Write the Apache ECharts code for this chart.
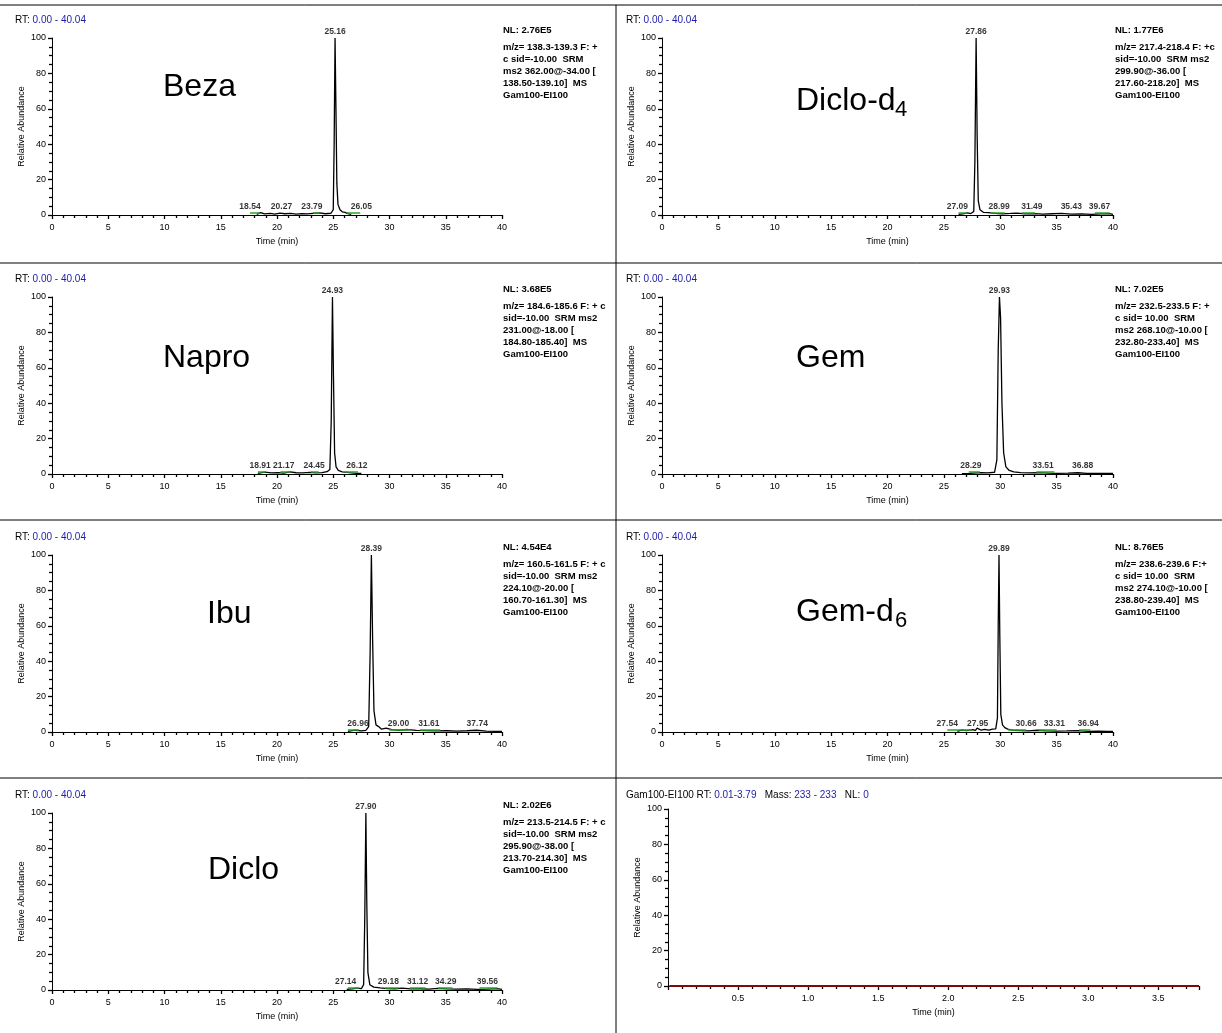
<!DOCTYPE html>
<html>
<head>
<meta charset="utf-8">
<script src="https://cdn.jsdelivr.net/npm/echarts@6/dist/echarts.min.js"></script>
<style>
  html, body { margin: 0; padding: 0; background: #fff; }
  #chart { width: 1222px; height: 1033px; }
</style>
</head>
<body>
<div id="chart"></div>
<script>
// ---- data ----
const bezaTime  = [18.2, 18.54, 18.9, 19.4, 19.8, 20.27, 20.7, 21.2, 21.7, 22.2, 22.7, 23.2, 23.79, 24.3, 24.8, 25.0, 25.08, 25.16, 25.24, 25.32, 25.42, 25.6, 25.8, 26.05, 26.3, 26.6];
const bezaAbund = [0.4, 1.3, 0.6, 0.9, 0.5, 1.1, 0.7, 0.9, 0.5, 0.8, 0.6, 0.9, 1.2, 0.7, 1.0, 3, 40, 100, 60, 18, 6, 3, 1.8, 1.5, 0.8, 0.4];
const bezaMinor   = [18.54, 20.27, 23.79, 26.05];
const bezaMinorAt = [17.6, 20.4, 23.1, 27.5];
const bezaGreen   = [[17.6, 18.5], [23.2, 23.8], [26.2, 27.4]];

const dcd4Time  = [26.3, 26.7, 27.09, 27.4, 27.65, 27.75, 27.86, 27.95, 28.05, 28.2, 28.5, 28.99, 29.5, 30.2, 30.9, 31.49, 32.2, 33.0, 33.8, 34.6, 35.43, 36.3, 37.2, 38.1, 38.9, 39.67, 40.0];
const dcd4Abund = [0.3, 0.6, 1.2, 0.8, 2, 30, 100, 45, 8, 3, 1.5, 1.3, 0.9, 0.7, 0.9, 1.1, 0.6, 0.8, 0.5, 0.7, 0.9, 0.5, 0.6, 0.4, 0.6, 0.8, 0.4];
const dcd4Minor   = [27.09, 28.99, 31.49, 35.43, 39.67];
const dcd4MinorAt = [26.2, 29.9, 32.8, 36.3, 38.8];
const dcd4Green   = [[26.3, 27.1], [29.1, 30.4], [31.9, 33.1], [38.4, 39.7]];

const napTime  = [18.3, 18.91, 19.5, 20.1, 20.6, 21.17, 21.7, 22.3, 22.9, 23.5, 24.0, 24.45, 24.7, 24.82, 24.93, 25.02, 25.12, 25.25, 25.45, 25.8, 26.12, 26.6, 27.1, 27.5];
const napAbund = [0.3, 1.1, 0.6, 0.8, 0.5, 1.2, 0.7, 0.6, 0.9, 0.6, 0.8, 1.3, 2.5, 30, 100, 55, 12, 4, 2, 1.2, 1.1, 0.6, 0.4, 0.3];
const napMinor   = [18.91, 21.17, 24.45, 26.12];
const napMinorAt = [18.5, 20.6, 23.3, 27.1];
const napGreen   = [[18.3, 19.0], [20.3, 21.2], [23.0, 23.7], [26.1, 27.2]];

const gemTime  = [26.6, 27.3, 28.29, 28.9, 29.5, 29.7, 29.82, 29.93, 30.03, 30.15, 30.3, 30.5, 30.8, 31.2, 31.8, 32.6, 33.51, 34.3, 35.1, 36.0, 36.88, 37.7, 38.5, 39.3, 40.0];
const gemAbund = [0.2, 0.4, 0.8, 0.6, 1.0, 8, 70, 100, 88, 40, 12, 4, 2, 1.2, 0.8, 0.6, 0.8, 0.5, 0.4, 0.5, 0.7, 0.4, 0.3, 0.4, 0.3];
const gemMinor   = [28.29, 33.51, 36.88];
const gemMinorAt = [27.4, 33.8, 37.3];
const gemGreen   = [[27.2, 28.2], [33.2, 34.8]];

const ibuTime  = [26.3, 26.96, 27.5, 27.9, 28.15, 28.28, 28.39, 28.5, 28.62, 28.8, 29.0, 29.3, 29.7, 30.2, 30.8, 31.61, 32.4, 33.3, 34.2, 35.1, 36.0, 36.9, 37.74, 38.6, 39.4, 40.0];
const ibuAbund = [0.3, 1.0, 0.6, 0.9, 3, 45, 100, 52, 12, 4, 3.2, 1.6, 2.2, 1.3, 1.0, 1.4, 0.9, 0.8, 0.6, 0.7, 0.5, 0.7, 1.0, 0.5, 0.4, 0.3];
const ibuMinor   = [26.96, 29.00, 31.61, 37.74];
const ibuMinorAt = [27.2, 30.8, 33.5, 37.8];
const ibuGreen   = [[26.3, 27.3], [30.0, 31.8], [32.7, 34.5]];

const gd6Time  = [26.2, 26.6, 27.0, 27.54, 27.8, 27.95, 28.3, 28.6, 29.0, 29.3, 29.6, 29.75, 29.82, 29.89, 29.96, 30.05, 30.2, 30.4, 30.66, 31.1, 31.8, 32.5, 33.31, 34.1, 35.0, 35.9, 36.94, 37.8, 38.7, 39.5, 40.0];
const gd6Abund = [0.4, 1.2, 0.8, 1.4, 0.9, 2.2, 1.0, 1.5, 1.1, 1.6, 1.8, 8, 60, 100, 55, 10, 4, 2.5, 1.6, 1.0, 0.8, 0.6, 1.0, 0.6, 0.5, 0.6, 0.8, 0.4, 0.5, 0.4, 0.3];
const gd6Minor   = [27.54, 27.95, 30.66, 33.31, 36.94];
const gd6MinorAt = [25.3, 28.0, 32.3, 34.8, 37.8];
const gd6Green   = [[25.3, 27.5], [30.7, 32.3], [33.4, 35.0], [37.0, 38.0]];

const dicTime  = [26.2, 26.7, 27.14, 27.5, 27.7, 27.8, 27.9, 27.98, 28.08, 28.25, 28.6, 29.18, 29.8, 30.5, 31.12, 31.9, 32.7, 33.5, 34.29, 35.1, 36.0, 36.9, 37.8, 38.7, 39.56, 40.0];
const dicAbund = [0.3, 0.6, 1.1, 0.8, 3, 40, 100, 50, 10, 3, 1.6, 1.2, 0.8, 0.7, 1.1, 0.6, 0.7, 0.5, 0.9, 0.6, 0.5, 0.6, 0.4, 0.5, 0.8, 0.3];
const dicMinor   = [27.14, 29.18, 31.12, 34.29, 39.56];
const dicMinorAt = [26.1, 29.9, 32.5, 35.0, 38.7];
const dicGreen   = [[26.3, 27.3], [29.6, 30.8], [31.8, 33.2], [34.3, 35.6], [38.0, 39.6]];

const blankTime  = [0.01, 3.79];
const blankAbund = [0, 0];

// ---- layout ----
const FONT = '"Liberation Sans", Arial, sans-serif';
const BLUE = '#1c1ca8';
const colX = [52, 662];
const rowY = [38, 297, 555, 813];

const panels = [
  {name: 'Beza', sub: '', nx: 163, ny: 87, col: 0, row: 0, time: bezaTime, abund: bezaAbund, peak: 25.16, minor: bezaMinor, minorAt: bezaMinorAt, green: bezaGreen,
   nl: 'NL: 2.76E5', info: ['m/z= 138.3-139.3 F: +', 'c sid=-10.00  SRM', 'ms2 362.00@-34.00 [', '138.50-139.10]  MS', 'Gam100-EI100']},
  {name: 'Diclo-d', sub: '4', nx: 796, ny: 101, col: 1, row: 0, time: dcd4Time, abund: dcd4Abund, peak: 27.86, minor: dcd4Minor, minorAt: dcd4MinorAt, green: dcd4Green,
   nl: 'NL: 1.77E6', info: ['m/z= 217.4-218.4 F: +c', 'sid=-10.00  SRM ms2', '299.90@-36.00 [', '217.60-218.20]  MS', 'Gam100-EI100']},
  {name: 'Napro', sub: '', nx: 163, ny: 358, col: 0, row: 1, time: napTime, abund: napAbund, peak: 24.93, minor: napMinor, minorAt: napMinorAt, green: napGreen,
   nl: 'NL: 3.68E5', info: ['m/z= 184.6-185.6 F: + c', 'sid=-10.00  SRM ms2', '231.00@-18.00 [', '184.80-185.40]  MS', 'Gam100-EI100']},
  {name: 'Gem', sub: '', nx: 796, ny: 358, col: 1, row: 1, time: gemTime, abund: gemAbund, peak: 29.93, minor: gemMinor, minorAt: gemMinorAt, green: gemGreen,
   nl: 'NL: 7.02E5', info: ['m/z= 232.5-233.5 F: +', 'c sid= 10.00  SRM', 'ms2 268.10@-10.00 [', '232.80-233.40]  MS', 'Gam100-EI100']},
  {name: 'Ibu', sub: '', nx: 207, ny: 614, col: 0, row: 2, time: ibuTime, abund: ibuAbund, peak: 28.39, minor: ibuMinor, minorAt: ibuMinorAt, green: ibuGreen,
   nl: 'NL: 4.54E4', info: ['m/z= 160.5-161.5 F: + c', 'sid=-10.00  SRM ms2', '224.10@-20.00 [', '160.70-161.30]  MS', 'Gam100-EI100']},
  {name: 'Gem-d', sub: '6', nx: 796, ny: 612, col: 1, row: 2, time: gd6Time, abund: gd6Abund, peak: 29.89, minor: gd6Minor, minorAt: gd6MinorAt, green: gd6Green,
   nl: 'NL: 8.76E5', info: ['m/z= 238.6-239.6 F:+', 'c sid= 10.00  SRM', 'ms2 274.10@-10.00 [', '238.80-239.40]  MS', 'Gam100-EI100']},
  {name: 'Diclo', sub: '', nx: 208, ny: 870, col: 0, row: 3, time: dicTime, abund: dicAbund, peak: 27.90, minor: dicMinor, minorAt: dicMinorAt, green: dicGreen,
   nl: 'NL: 2.02E6', info: ['m/z= 213.5-214.5 F: + c', 'sid=-10.00  SRM ms2', '295.90@-38.00 [', '213.70-214.30]  MS', 'Gam100-EI100']}
];

const grids = [], xAxes = [], yAxes = [], series = [], graphics = [];

function txt(x, y, text, size, extra) {
  return {type: 'text', x: x, y: y, silent: true,
    style: Object.assign({text: text, fontSize: size, fontFamily: FONT, fill: '#000', align: 'left', verticalAlign: 'middle'}, extra || {})};
}
function hline(y) { return {type: 'line', silent: true, shape: {x1: 0, y1: y, x2: 1222, y2: y}, style: {stroke: '#000', lineWidth: 1}}; }

function axisPair(i, xmin, xmax, xint, xfmt) {
  xAxes.push({
    type: 'value', gridIndex: i, min: xmin, max: xmax, interval: xint,
    axisLine: {show: true, onZero: false, lineStyle: {color: '#000', width: 1}},
    axisTick: {show: true, length: 4, lineStyle: {color: '#000', width: 1.3}},
    minorTick: {show: true, splitNumber: 5, length: 3, lineStyle: {color: '#000', width: 1.3}},
    splitLine: {show: false},
    axisLabel: {color: '#000', fontSize: 9, fontFamily: FONT, margin: 8, showMaxLabel: xfmt ? false : true, formatter: xfmt},
    name: 'Time (min)', nameLocation: 'middle', nameGap: 22,
    nameTextStyle: {color: '#000', fontSize: 9, fontFamily: FONT}
  });
  yAxes.push({
    type: 'value', gridIndex: i, min: 0, max: 100, interval: 20,
    axisLine: {show: true, onZero: false, lineStyle: {color: '#000', width: 1}},
    axisTick: {show: true, length: 4, lineStyle: {color: '#000', width: 1.3}},
    minorTick: {show: true, splitNumber: 4, length: 3, lineStyle: {color: '#000', width: 1.3}},
    splitLine: {show: false},
    axisLabel: {color: '#000', fontSize: 9, fontFamily: FONT, margin: 6},
    name: 'Relative Abundance', nameLocation: 'middle', nameGap: 26,
    nameTextStyle: {color: '#000', fontSize: 9, fontFamily: FONT}
  });
}

const headRich = {k: {fill: '#000', fontSize: 10, fontFamily: FONT}, v: {fill: BLUE, fontSize: 10, fontFamily: FONT}};

panels.forEach(function (p, i) {
  const gx = colX[p.col], gy = rowY[p.row];
  grids.push({left: gx, top: gy, width: p.col === 0 ? 450 : 451, height: 177});
  axisPair(i, 0, 40, 5, null);

  series.push({
    type: 'line', xAxisIndex: i, yAxisIndex: i, showSymbol: false, silent: true,
    data: p.time.map(function (t, k) { return [t, p.abund[k]]; }),
    lineStyle: {color: '#000', width: 1.3}, z: 3
  });
  series.push({
    type: 'lines', coordinateSystem: 'cartesian2d', xAxisIndex: i, yAxisIndex: i, silent: true,
    data: p.green.map(function (g) { return {coords: [[g[0], 1.3], [g[1], 1.3]]}; }),
    lineStyle: {color: '#2aa52a', width: 1.5, opacity: 1}, z: 4
  });
  const labs = [{value: [p.peak, 100], name: p.peak.toFixed(2), label: {distance: 2}}];
  p.minor.forEach(function (rt, k) { labs.push({value: [p.minorAt[k], 1.5], name: rt.toFixed(2), label: {distance: 1}}); });
  series.push({
    type: 'scatter', xAxisIndex: i, yAxisIndex: i, symbolSize: 0, silent: true,
    itemStyle: {color: 'transparent'}, data: labs, z: 5,
    label: {show: true, position: 'top', formatter: '{b}', color: '#000', fontSize: 8.5, fontWeight: 'bold', fontFamily: FONT}
  });

  // header, info and compound name
  const hx = p.col === 0 ? 15 : 626;
  graphics.push(txt(hx, gy - 18, '{k|RT: }{v|0.00 - 40.04}', 10, {rich: headRich}));
  const ix = p.col === 0 ? 503 : 1115;
  graphics.push(txt(ix, gy - 8, p.nl, 9.5, {fontWeight: 'bold'}));
  graphics.push(txt(ix, gy + 3, p.info.join('\n'), 9.5, {fontWeight: 'bold', verticalAlign: 'top', lineHeight: 12}));
  graphics.push(txt(p.nx, p.ny, p.name, 32));
  if (p.sub) {
    graphics.push(txt(p.nx + 99, p.ny + 9, p.sub, 22));
  }
});

// blank panel
const bi = panels.length;
grids.push({left: 668, top: 809, width: 531, height: 177});
axisPair(bi, 0, 3.79, 0.5, function (v) { return v === 0 ? '' : v.toFixed(1); });
series.push({
  type: 'line', xAxisIndex: bi, yAxisIndex: bi, showSymbol: false, silent: true,
  data: blankTime.map(function (t, k) { return [t, blankAbund[k]]; }),
  lineStyle: {color: '#7a0c0c', width: 2}, z: 3
});
graphics.push(txt(626, 795, '{k|Gam100-EI100 RT: }{v|0.01-3.79}{k|   Mass: }{v|233 - 233}{k|   NL: }{v|0}', 10, {rich: headRich}));

// frame lines
graphics.push(hline(5), hline(263), hline(520), hline(778));
graphics.push({type: 'line', silent: true, shape: {x1: 616, y1: 5, x2: 616, y2: 1033}, style: {stroke: '#000', lineWidth: 1}});

const chart = echarts.init(document.getElementById('chart'), null, {renderer: 'canvas'});
chart.setOption({
  animation: false,
  backgroundColor: '#fff',
  grid: grids,
  xAxis: xAxes,
  yAxis: yAxes,
  series: series,
  graphic: {elements: graphics}
});
window.addEventListener('resize', function () { chart.resize(); });
</script>
</body>
</html>
